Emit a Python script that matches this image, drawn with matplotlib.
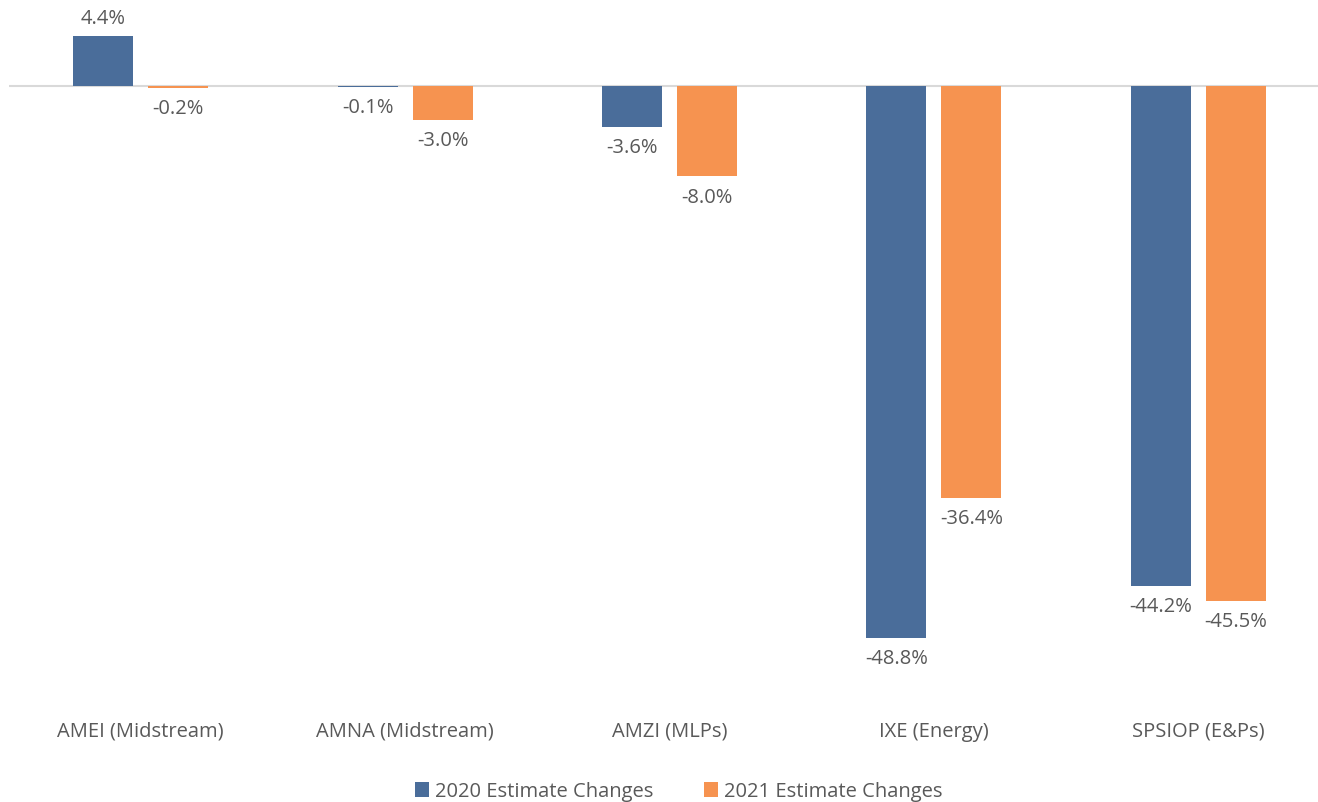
import numpy as np
import matplotlib
matplotlib.use('Agg')
import matplotlib.pyplot as plt

CATEGORIES = ['AMEI (Midstream)', 'AMNA (Midstream)', 'AMZI (MLPs)',
              'IXE (Energy)', 'SPSIOP (E&Ps)']
EST_2020 = [4.4, -0.1, -3.6, -48.8, -44.2]
EST_2021 = [-0.2, -3.0, -8.0, -36.4, -45.5]
SERIES_LABELS = ['2020 Estimate Changes', '2021 Estimate Changes']

BLUE = '#4A6D9A'
ORANGE = '#F69350'
TEXT = '#595959'

plt.rcParams.update({
    'font.family': ['Open Sans', 'DejaVu Sans'],
    'font.size': 14.5,
})

fig = plt.figure(figsize=(13.18, 8.02), dpi=100)
ax = fig.add_axes([0.0065, 0.127, 1.003, 0.873])

x = np.arange(len(CATEGORIES))
width = 0.227
off = 0.142

bars1 = ax.bar(x - off, EST_2020, width, color=BLUE, label=SERIES_LABELS[0])
bars2 = ax.bar(x + off, EST_2021, width, color=ORANGE, label=SERIES_LABELS[1])

for bars, vals in ((bars1, EST_2020), (bars2, EST_2021)):
    for bar, v in zip(bars, vals):
        cx = bar.get_x() + bar.get_width() / 2
        if v >= 0:
            ax.annotate(f'{v:.1f}%', (cx, v), xytext=(0, 5), textcoords='offset points',
                        ha='center', va='bottom', color=TEXT)
        else:
            ax.annotate(f'{v:.1f}%', (cx, v), xytext=(0, -8), textcoords='offset points',
                        ha='center', va='top', color=TEXT)

ax.axhline(0, color='#D9D9D9', lw=1.5, zorder=0)
ax.set_xlim(-0.5, 4.5)
ax.set_ylim(-54.3, 7.6)
ax.set_yticks([])
ax.set_xticks(x)
ax.set_xticklabels(CATEGORIES, color=TEXT)
ax.tick_params(axis='x', length=0, pad=15.5)
for s in ax.spines.values():
    s.set_visible(False)

fig.legend(loc='lower center', bbox_to_anchor=(0.515, -0.022), ncol=2, frameon=False,
           labelcolor=TEXT, handlelength=0.7, handleheight=0.7,
           handletextpad=0.3, columnspacing=2.5)

fig.savefig('out.png', dpi=100)
plt.close(fig)
